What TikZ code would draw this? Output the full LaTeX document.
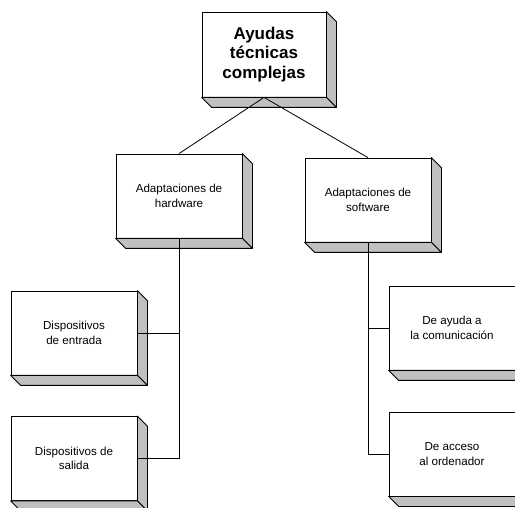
\documentclass[tikz,border=0pt]{standalone}
\usepackage{fontspec}
\setmainfont{Liberation Sans}
\usetikzlibrary{positioning, calc}
\definecolor{sidegray}{RGB}{192,192,192}
\tikzstyle{Link} = [
%plain connector between boxes
line width = 0.8pt, black
]

\begin{document}
\begin{tikzpicture}[x=1pt, y=-1pt,
                    block/.style = {rectangle, draw, fill=white, line width=0.8pt, text centered, align=center, minimum width=126pt, minimum height=84pt, inner sep=0pt, font=\fontsize{11.6}{14.5}\selectfont},
                    rootblock/.style = {block, minimum width=124pt, minimum height=85pt, font=\bfseries\fontsize{17}{19.5}\selectfont},
                    face/.style = {draw, fill=sidegray, line width=0.8pt, line join=round},
                   ]
    \useasboundingbox (0,0) rectangle (515,508);

    \node[rootblock](ATC) at (264,54.5){Ayudas\\técnicas\\complejas};
    \node[block](HW) at (179,196){Adaptaciones de\\hardware};
    \node[block](SW) at (368,200){Adaptaciones de\\software};
    \node[block](IN) at (74,333){Dispositivos\\de entrada};
    \node[block](OUT) at (74,458.5){Dispositivos de\\salida};
    \node[block](COM) at (452,328){De ayuda a\\la comunicación};
    \node[block](ACC) at (452,454){De acceso\\al ordenador};

    % 3d sides
    \foreach \n in {ATC,HW,SW,IN,OUT,COM,ACC}{
        \draw[face](\n.north east)--++(10,10)--($(\n.south east)+(10,10)$)--(\n.south east)--cycle;
        \draw[face](\n.south west)--++(10,10)--($(\n.south east)+(10,10)$)--(\n.south east)--cycle;
    }

    \draw[Link](ATC.south)--(HW.north);
    \draw[Link](ATC.south)--(SW.north);
    \draw[Link](HW.south)|-(IN.east);
    \draw[Link](HW.south)|-(OUT.east);
    \draw[Link](SW.south)|-(COM.west);
    \draw[Link](SW.south)|-(ACC.west);
\end{tikzpicture}
\end{document}
